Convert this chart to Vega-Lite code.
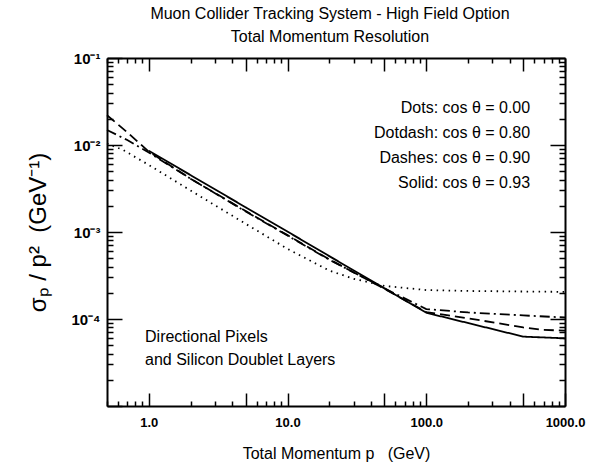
{
  "$schema": "https://vega.github.io/schema/vega-lite/v6.json",
  "width": 458,
  "height": 348,
  "autosize": {"type": "none"},
  "padding": {"left": 107, "top": 58, "right": 34, "bottom": 59},
  "background": "white",
  "config": {
    "font": "Liberation Sans",
    "view": {"stroke": null},
    "axis": {"domainColor": "black", "domainWidth": 2, "tickColor": "black", "tickWidth": 1.5, "labelColor": "black", "titleColor": "black", "grid": false}
  },
  "title": {
    "text": ["Muon Collider Tracking System - High Field Option", "Total Momentum Resolution"],
    "fontSize": 16,
    "fontWeight": "normal",
    "font": "Liberation Sans",
    "color": "black",
    "anchor": "middle",
    "offset": 6,
    "lineHeight": 23,
    "dx": -6
  },
  "datasets": {
    "curves": [
      {"series": "Solid", "p": 1, "v": 0.0086},
      {"series": "Solid", "p": 2, "v": 0.00451},
      {"series": "Solid", "p": 5, "v": 0.00192},
      {"series": "Solid", "p": 10, "v": 0.00101},
      {"series": "Solid", "p": 20, "v": 0.000528},
      {"series": "Solid", "p": 50, "v": 0.000225},
      {"series": "Solid", "p": 100, "v": 0.000118},
      {"series": "Solid", "p": 500, "v": 0.0000627},
      {"series": "Solid", "p": 1000, "v": 0.00006},
      {"series": "Dashes", "p": 0.5, "v": 0.022},
      {"series": "Dashes", "p": 0.7, "v": 0.014},
      {"series": "Dashes", "p": 1, "v": 0.0084},
      {"series": "Dashes", "p": 2, "v": 0.0041},
      {"series": "Dashes", "p": 5, "v": 0.00174},
      {"series": "Dashes", "p": 10, "v": 0.00092},
      {"series": "Dashes", "p": 20, "v": 0.000485},
      {"series": "Dashes", "p": 50, "v": 0.000222},
      {"series": "Dashes", "p": 100, "v": 0.00012},
      {"series": "Dashes", "p": 200, "v": 0.000102},
      {"series": "Dashes", "p": 500, "v": 0.00008},
      {"series": "Dashes", "p": 700, "v": 0.000075},
      {"series": "Dashes", "p": 1000, "v": 0.0000735},
      {"series": "Dotdash", "p": 0.5, "v": 0.0149},
      {"series": "Dotdash", "p": 0.7, "v": 0.0114},
      {"series": "Dotdash", "p": 1, "v": 0.0082},
      {"series": "Dotdash", "p": 2, "v": 0.0041},
      {"series": "Dotdash", "p": 5, "v": 0.00172},
      {"series": "Dotdash", "p": 10, "v": 0.00091},
      {"series": "Dotdash", "p": 20, "v": 0.00048},
      {"series": "Dotdash", "p": 50, "v": 0.000225},
      {"series": "Dotdash", "p": 100, "v": 0.00013},
      {"series": "Dotdash", "p": 200, "v": 0.000119},
      {"series": "Dotdash", "p": 500, "v": 0.00011},
      {"series": "Dotdash", "p": 1000, "v": 0.000104},
      {"series": "Dots", "p": 0.5, "v": 0.0104},
      {"series": "Dots", "p": 0.65, "v": 0.0088},
      {"series": "Dots", "p": 1, "v": 0.0059},
      {"series": "Dots", "p": 2, "v": 0.003},
      {"series": "Dots", "p": 5, "v": 0.00124},
      {"series": "Dots", "p": 10, "v": 0.00064},
      {"series": "Dots", "p": 20, "v": 0.00036},
      {"series": "Dots", "p": 30, "v": 0.00029},
      {"series": "Dots", "p": 50, "v": 0.00024},
      {"series": "Dots", "p": 100, "v": 0.000215},
      {"series": "Dots", "p": 200, "v": 0.00021},
      {"series": "Dots", "p": 500, "v": 0.000207},
      {"series": "Dots", "p": 1000, "v": 0.000205}
    ]
  },
  "layer": [
    {
      "data": {"name": "curves"},
      "mark": {"type": "line", "color": "black", "strokeWidth": 1.8},
      "encoding": {
        "x": {
          "field": "p", "type": "quantitative",
          "scale": {"type": "log", "domain": [0.5, 1000], "nice": false},
          "axis": {
            "orient": "bottom",
            "values": [0.5,0.6,0.7,0.8,0.9,1,2,3,4,5,6,7,8,9,10,20,30,40,50,60,70,80,90,100,200,300,400,500,600,700,800,900,1000],
            "labelExpr": "datum.value == 1 ? '1.0' : datum.value == 10 ? '10.0' : datum.value == 100 ? '100.0' : datum.value == 1000 ? '1000.0' : ''",
            "tickSize": {"condition": {"test": "indexof([1,5,10,50,100,500,1000], datum.value) >= 0", "value": -13}, "value": -5},
            "labelPadding": 23,
            "labelFontSize": 13,
            "labelFontWeight": "bold",
            "labelBaseline": "top",
            "labelFlush": false,
            "labelOverlap": false,
            "title": "Total Momentum p\u00a0\u00a0\u00a0(GeV)",
            "titleFontSize": 16,
            "titleFontWeight": "normal",
            "titlePadding": 8
          }
        },
        "y": {
          "field": "v", "type": "quantitative",
          "scale": {"type": "log", "domain": [0.00001, 0.1], "nice": false},
          "axis": {
            "orient": "left",
            "values": [0.00001,0.00002,0.00003,0.00004,0.00005,0.00006,0.00007,0.00008,0.00009,0.0001,0.0002,0.0003,0.0004,0.0005,0.0006,0.0007,0.0008,0.0009,0.001,0.002,0.003,0.004,0.005,0.006,0.007,0.008,0.009,0.01,0.02,0.03,0.04,0.05,0.06,0.07,0.08,0.09,0.1],
            "labelExpr": "datum.value == 0.1 ? '10⁻¹' : datum.value == 0.01 ? '10⁻²' : datum.value == 0.001 ? '10⁻³' : datum.value == 0.0001 ? '10⁻⁴' : ''",
            "tickSize": {"condition": {"test": "indexof([0.00001,0.0001,0.001,0.01,0.1], datum.value) >= 0", "value": -15}, "value": -6},
            "labelPadding": 22,
            "labelFontSize": 15,
            "labelFontWeight": "bold",
            "labelBaseline": "middle",
            "labelFlush": false,
            "labelOverlap": false,
            "title": "σₚ / p²\u00a0\u00a0(GeV⁻¹)",
            "titleFontSize": 24,
            "titleFontWeight": "normal",
            "titlePadding": 20
          }
        },
        "strokeDash": {
          "field": "series", "type": "nominal",
          "scale": {"domain": ["Dots", "Dotdash", "Dashes", "Solid"], "range": [[1.5, 4.5], [10, 4, 2, 4], [10, 5], [1, 0]]},
          "legend": null
        }
      }
    },
    {
      "data": {"name": "curves"},
      "mark": {"type": "point", "opacity": 0},
      "encoding": {
        "x": {
          "field": "p", "type": "quantitative",
          "axis": {
            "orient": "top",
            "values": [0.5,0.6,0.7,0.8,0.9,1,2,3,4,5,6,7,8,9,10,20,30,40,50,60,70,80,90,100,200,300,400,500,600,700,800,900,1000],
            "labels": false,
            "tickSize": {"condition": {"test": "indexof([1,5,10,50,100,500,1000], datum.value) >= 0", "value": -13}, "value": -5},
            "title": null
          }
        },
        "y": {
          "field": "v", "type": "quantitative",
          "axis": {
            "orient": "right",
            "values": [0.00001,0.00002,0.00003,0.00004,0.00005,0.00006,0.00007,0.00008,0.00009,0.0001,0.0002,0.0003,0.0004,0.0005,0.0006,0.0007,0.0008,0.0009,0.001,0.002,0.003,0.004,0.005,0.006,0.007,0.008,0.009,0.01,0.02,0.03,0.04,0.05,0.06,0.07,0.08,0.09,0.1],
            "labels": false,
            "tickSize": {"condition": {"test": "indexof([0.00001,0.0001,0.001,0.01,0.1], datum.value) >= 0", "value": -15}, "value": -6},
            "title": null
          }
        }
      }
    },
    {
      "data": {"values": [{}]},
      "mark": {"type": "text", "text": ["Dots: cos θ = 0.00", "Dotdash: cos θ = 0.80", "Dashes: cos θ = 0.90", "Solid: cos θ = 0.93"], "align": "right", "baseline": "middle", "fontSize": 16, "lineHeight": 25, "color": "black", "font": "Liberation Sans"},
      "encoding": {
        "x": {"datum": 561, "type": "quantitative", "axis": null},
        "y": {"datum": 0.0266, "type": "quantitative", "axis": null}
      }
    },
    {
      "data": {"values": [{}]},
      "mark": {"type": "text", "text": ["Directional Pixels", "and Silicon Doublet Layers"], "align": "left", "baseline": "middle", "fontSize": 16, "lineHeight": 23, "color": "black", "font": "Liberation Sans"},
      "encoding": {
        "x": {"datum": 0.94, "type": "quantitative", "axis": null},
        "y": {"datum": 0.0000621, "type": "quantitative", "axis": null}
      }
    }
  ],
  "resolve": {"axis": {"x": "independent", "y": "independent"}}
}
